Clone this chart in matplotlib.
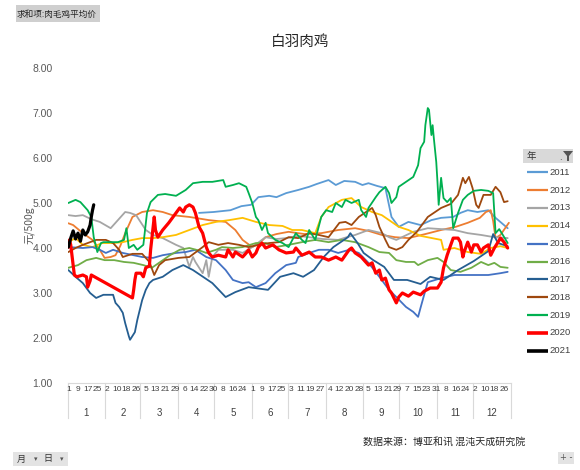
import numpy as np
import matplotlib
matplotlib.use('Agg')
import matplotlib.pyplot as plt
from matplotlib.patches import Rectangle, Polygon
from matplotlib.transforms import blended_transform_factory

plt.rcParams['font.family'] = ['Noto Sans CJK SC', 'DejaVu Sans']
LATIN = ['Liberation Sans', 'DejaVu Sans']

# 白羽肉鸡 price, (day of year, 元/500g); day 0 = Jan 1, leap-year calendar
p2011 = [(108, 4.78), (120, 4.80), (134, 4.84), (143, 4.93), (151, 4.96), (157, 5.13),
         (166, 5.16), (172, 5.13), (180, 5.22), (190, 5.29), (199, 5.36), (205, 5.42),
         (215, 5.51), (221, 5.40), (228, 5.49), (237, 5.47), (243, 5.40), (248, 5.44),
         (255, 5.38), (262, 5.33), (267, 4.69), (273, 4.47), (281, 4.58), (291, 4.51),
         (300, 4.62), (308, 4.67), (318, 4.69), (324, 4.78), (330, 4.84), (338, 4.80),
         (347, 4.84), (353, 4.67), (363, 4.44)]
p2012 = [(0, 4.55), (4, 4.51), (12, 4.33), (20, 4.18), (26, 3.96), (30, 3.78), (35, 3.80),
         (39, 3.84), (43, 4.05), (47, 4.33), (53, 4.69), (61, 4.80), (70, 4.84), (78, 4.80),
         (86, 4.73), (100, 4.69), (116, 4.62), (130, 4.58), (138, 4.40), (144, 4.18),
         (152, 4.02), (158, 4.11), (163, 4.24), (172, 4.31), (182, 4.36), (195, 4.31),
         (209, 4.33), (223, 4.40), (237, 4.44), (248, 4.38), (259, 4.29), (270, 4.24),
         (281, 4.22), (295, 4.31), (308, 4.40), (320, 4.47), (330, 4.56), (340, 4.67),
         (345, 4.80), (349, 4.84), (351, 4.60), (353, 4.22), (357, 4.29), (364, 4.56)]
p2013 = [(0, 4.73), (6, 4.71), (12, 4.73), (19, 4.64), (26, 4.58), (35, 4.44), (39, 4.56),
         (47, 4.80), (51, 4.78), (56, 4.73), (64, 4.40), (70, 4.29), (78, 4.22), (89, 4.07),
         (95, 4.00), (100, 3.58), (103, 3.80), (105, 3.69), (111, 3.44), (114, 3.73),
         (116, 3.36), (119, 3.80), (124, 3.96), (136, 3.96), (144, 3.89), (152, 4.02),
         (163, 4.24), (172, 4.20), (180, 4.22), (190, 4.27), (199, 4.24), (210, 4.20),
         (223, 4.18), (230, 4.24), (237, 4.29), (248, 4.40), (259, 4.33), (265, 4.24),
         (271, 4.18), (278, 4.27), (285, 4.36), (297, 4.44), (308, 4.42), (319, 4.40),
         (330, 4.33), (341, 4.29), (352, 4.24), (363, 4.22)]
p2014 = [(0, 4.13), (6, 4.22), (12, 4.07), (20, 4.02), (28, 4.11), (37, 4.11), (45, 4.13),
         (53, 4.18), (61, 4.22), (70, 4.22), (78, 4.24), (89, 4.29), (100, 4.40), (111, 4.51),
         (122, 4.58), (133, 4.62), (144, 4.67), (155, 4.58), (166, 4.51), (177, 4.49),
         (185, 4.40), (193, 4.40), (204, 4.33), (209, 4.69), (215, 4.91), (226, 5.07),
         (234, 5.11), (242, 4.91), (251, 4.80), (259, 4.73), (265, 4.62), (273, 4.47),
         (281, 4.40), (291, 4.27), (308, 4.18), (310, 3.96), (319, 4.00), (330, 3.91),
         (341, 3.87), (349, 4.00), (357, 4.04), (363, 4.00)]
p2015 = [(0, 4.02), (12, 4.00), (20, 4.02), (26, 3.96), (31, 3.89), (37, 3.96), (45, 3.89),
         (61, 3.80), (70, 3.78), (78, 3.84), (89, 3.89), (97, 3.91), (105, 3.96), (114, 3.80),
         (122, 3.73), (130, 3.51), (136, 3.29), (144, 3.22), (149, 3.24), (155, 3.13),
         (163, 3.22), (171, 3.44), (180, 3.62), (188, 3.67), (190, 3.80), (199, 3.89),
         (207, 3.96), (215, 3.96), (223, 3.89), (232, 3.96), (240, 3.89), (248, 3.67),
         (257, 3.36), (265, 3.07), (271, 2.91), (279, 2.69), (285, 2.58), (289, 2.47),
         (291, 2.67), (294, 2.96), (297, 3.24), (308, 3.33), (319, 3.40), (330, 3.40),
         (347, 3.40), (357, 3.44), (363, 3.47)]
p2016 = [(0, 3.56), (8, 3.62), (15, 3.73), (23, 3.78), (30, 3.73), (38, 3.73), (46, 3.69),
         (54, 3.67), (62, 3.62), (69, 3.56), (76, 3.69), (84, 3.84), (92, 3.96), (100, 4.00),
         (110, 3.93), (114, 3.89), (122, 3.96), (127, 4.02), (136, 4.00), (144, 4.02),
         (155, 4.11), (163, 4.11), (171, 4.02), (182, 4.07), (193, 4.13), (204, 4.18),
         (215, 4.13), (226, 4.18), (237, 4.13), (248, 4.02), (257, 3.91), (265, 3.89),
         (271, 3.73), (279, 3.69), (286, 3.69), (289, 3.62), (297, 3.73), (305, 3.78),
         (310, 3.69), (316, 3.51), (324, 3.47), (333, 3.56), (341, 3.69), (347, 3.62),
         (352, 3.67), (357, 3.58), (363, 3.56)]
p2017 = [(0, 3.51), (6, 3.36), (12, 3.22), (18, 3.00), (23, 2.89), (29, 2.96), (37, 2.96),
         (39, 2.78), (42, 2.69), (45, 2.56), (47, 2.33), (50, 2.04), (51, 1.96), (55, 2.13),
         (57, 2.40), (61, 2.84), (64, 3.07), (67, 3.22), (70, 3.29), (78, 3.36), (86, 3.51),
         (95, 3.62), (103, 3.51), (119, 3.22), (130, 2.91), (138, 3.02), (149, 3.13),
         (165, 3.07), (175, 3.36), (186, 3.44), (194, 3.36), (203, 3.51), (211, 3.80),
         (219, 4.02), (231, 4.24), (233, 4.33), (239, 4.11), (244, 3.89), (252, 3.73),
         (261, 3.58), (269, 3.29), (280, 3.29), (291, 3.20), (299, 3.36), (310, 3.29),
         (322, 3.51), (335, 3.71), (347, 3.93), (351, 4.31), (355, 4.11), (363, 4.04)]
p2018 = [(0, 3.91), (6, 4.00), (12, 4.07), (23, 4.18), (31, 4.18), (37, 4.11), (42, 3.96),
         (45, 3.80), (53, 3.87), (61, 3.87), (67, 3.69), (71, 3.40), (75, 3.62), (80, 3.73),
         (91, 3.78), (100, 3.80), (111, 4.02), (116, 4.13), (124, 4.07), (132, 4.11),
         (141, 4.07), (149, 4.02), (157, 4.07), (166, 4.11), (174, 4.13), (182, 4.24),
         (190, 4.22), (199, 4.33), (207, 4.29), (215, 4.24), (224, 4.56), (229, 4.58),
         (234, 4.51), (240, 4.69), (246, 4.80), (251, 4.89), (254, 4.73), (257, 4.47),
         (262, 4.18), (265, 4.02), (271, 3.96), (276, 4.02), (281, 4.18), (288, 4.36),
         (297, 4.69), (308, 4.89), (316, 4.98), (322, 5.18), (326, 5.56), (328, 5.44),
         (331, 5.58), (334, 5.33), (337, 4.96), (339, 4.89), (343, 5.18), (349, 5.18),
         (353, 5.36), (357, 5.24), (360, 5.02), (363, 5.04)]
p2019 = [(0, 5.00), (6, 5.07), (10, 5.02), (16, 4.84), (19, 4.69), (21, 4.24), (24, 3.91),
         (27, 4.11), (29, 4.13), (41, 4.13), (46, 4.18), (48, 4.44), (50, 4.00), (54, 4.07),
         (57, 3.96), (62, 4.07), (65, 4.78), (68, 5.02), (74, 5.18), (80, 5.20), (89, 5.16),
         (97, 5.29), (103, 5.44), (111, 5.47), (119, 5.47), (128, 5.51), (130, 5.36),
         (136, 5.40), (141, 5.44), (147, 5.36), (149, 5.22), (152, 5.00), (155, 4.69),
         (157, 4.62), (160, 4.40), (163, 4.56), (165, 4.33), (171, 4.18), (177, 4.11),
         (182, 4.02), (188, 4.33), (193, 4.18), (196, 4.11), (199, 4.40), (204, 4.18),
         (209, 4.69), (213, 4.84), (218, 4.80), (221, 5.00), (226, 4.91), (229, 5.07),
         (234, 5.00), (240, 5.07), (242, 4.84), (246, 4.69), (248, 4.89), (254, 5.13),
         (257, 5.24), (262, 5.36), (265, 5.22), (267, 5.00), (271, 5.13), (273, 5.36),
         (279, 5.47), (285, 5.58), (289, 5.84), (291, 6.22), (294, 6.36), (295, 6.73),
         (297, 7.11), (298, 7.07), (300, 6.51), (301, 6.73), (302, 6.44), (304, 5.91),
         (305, 5.47), (306, 4.96), (308, 5.56), (309, 5.33), (310, 5.11), (313, 5.02),
         (316, 5.11), (318, 4.44), (322, 4.78), (326, 5.07), (330, 5.18), (335, 5.27),
         (341, 5.29), (347, 5.27), (351, 5.22), (353, 4.33), (356, 4.42), (359, 4.29),
         (363, 4.11)]
p2020 = [(0, 4.02), (1, 4.18), (2, 4.07), (4, 3.62), (5, 3.40), (7, 3.36), (12, 3.40),
         (15, 3.36), (16, 3.13), (18, 3.27), (19, 3.40), (53, 2.89), (54, 3.07), (55, 3.29),
         (56, 3.44), (60, 3.44), (62, 3.36), (64, 3.56), (67, 3.60), (68, 3.96), (71, 4.69),
         (72, 4.40), (74, 4.24), (78, 4.40), (83, 4.56), (89, 4.78), (92, 4.89), (95, 4.80),
         (97, 4.91), (100, 4.96), (103, 4.91), (105, 4.78), (108, 4.47), (111, 4.33),
         (114, 4.02), (116, 3.89), (119, 3.80), (124, 3.84), (130, 3.80), (132, 3.96),
         (136, 3.80), (138, 3.91), (144, 3.80), (147, 3.89), (149, 3.96), (152, 3.80),
         (155, 3.89), (157, 4.02), (160, 4.11), (163, 4.00), (169, 4.07), (174, 3.96),
         (180, 3.89), (186, 3.91), (188, 4.00), (193, 3.84), (199, 3.91), (204, 3.80),
         (209, 3.80), (215, 3.73), (221, 3.80), (226, 3.73), (232, 3.96), (234, 4.00),
         (237, 3.89), (242, 3.80), (248, 3.62), (251, 3.67), (254, 3.44), (257, 3.51),
         (259, 3.29), (262, 3.33), (265, 3.07), (267, 3.00), (271, 2.78), (273, 2.91),
         (276, 3.00), (281, 2.93), (285, 3.02), (291, 2.96), (294, 3.04), (299, 3.11),
         (305, 3.11), (308, 3.24), (310, 3.56), (313, 3.84), (316, 4.07), (318, 4.22),
         (322, 4.22), (324, 4.13), (326, 3.80), (327, 3.91), (330, 4.13), (333, 3.91),
         (335, 4.07), (338, 4.07), (341, 3.91), (343, 4.00), (347, 4.07), (349, 3.84),
         (352, 4.00), (355, 4.13), (357, 4.22), (360, 4.13), (363, 4.00)]
p2021 = [(0, 4.02), (2, 4.22), (4, 4.38), (6, 4.20), (8, 4.33), (10, 4.15), (12, 4.40),
         (14, 4.29), (16, 4.36), (18, 4.51), (19, 4.69), (20, 4.84), (21, 4.96)]

years = ['2011', '2012', '2013', '2014', '2015', '2016', '2017', '2018', '2019', '2020', '2021']
series = [p2011, p2012, p2013, p2014, p2015, p2016, p2017, p2018, p2019, p2020, p2021]
colors = ['#5B9BD5', '#ED7D31', '#A5A5A5', '#FFC000', '#4472C4', '#70AD47',
          '#255E91', '#9E480E', '#00B050', '#FF0000', '#000000']
widths = [1.3] * 9 + [2.3, 2.3]

month_days = [31, 29, 31, 30, 31, 30, 31, 31, 30, 31, 30, 31]
month_start = np.concatenate([[0], np.cumsum(month_days)])

fig = plt.figure(figsize=(5.8, 4.7), dpi=100)
ax = fig.add_axes([67.7 / 580, 87 / 470, 443 / 580, 315 / 470])

for pts, c, lw in zip(series, colors, widths):
    d, v = zip(*pts)
    ax.plot(d, v, color=c, lw=lw, solid_joinstyle='round', solid_capstyle='round')

ax.set_xlim(-0.5, 365.5)
ax.set_ylim(1, 8)
ax.set_yticks(np.arange(1, 9))
ax.set_yticklabels([f'{t:.2f}' for t in np.arange(1, 9)], family=LATIN, fontsize=7.5, color='#595959')
ax.tick_params(axis='y', length=0, pad=11)
ax.set_xticks([])
for s in ['top', 'right', 'left']:
    ax.spines[s].set_visible(False)
ax.spines['bottom'].set_color('#D9D9D9')

# two-level category axis: day of month every 8 days, month below
trans = blended_transform_factory(ax.transData, ax.transAxes)
for i in range(0, 366, 8):
    m = np.searchsorted(month_start, i, side='right') - 1
    ax.text(i, -0.022, str(i - month_start[m] + 1), transform=trans, ha='center', va='center',
            family=LATIN, fontsize=6.0, color='#404040', clip_on=False)
for m in range(12):
    ax.text((month_start[m] + month_start[m + 1] - 1) / 2, -0.095, str(m + 1), transform=trans,
            ha='center', va='center', family=LATIN, fontsize=7, color='#404040', clip_on=False)
for b in month_start:
    ax.plot([b - 0.5, b - 0.5], [0, -0.11], transform=trans, color='#D9D9D9', lw=0.8, clip_on=False)

fig.text(300 / 580, 1 - 42 / 470, '白羽肉鸡', ha='center', va='center', fontsize=10.5, color='#262626')
fig.text(29 / 580, 1 - 225 / 470, '元/500g', rotation=90, ha='center', va='center', fontsize=7.5, color='#595959')
fig.text(525 / 580, 1 - 442 / 470, '数据来源：博亚和讯 混沌天成研究院', ha='right', va='center',
         fontsize=7.2, color='#262626')

# pivot-chart field buttons and legend, placed in pixel units
ov = fig.add_axes([0, 0, 1, 1], zorder=5)
ov.set_xlim(0, 580)
ov.set_ylim(470, 0)
ov.axis('off')

ov.add_patch(Rectangle((16, 5), 84, 17, facecolor='#CFCFCF', edgecolor='none'))
ov.text(17, 14, '求和项:肉毛鸡平均价', fontsize=6.2, va='center', ha='left', color='#222222')

ov.add_patch(Rectangle((13, 452), 55, 14, facecolor='#E3E3E3', edgecolor='none'))
ov.text(17, 459, '月', fontsize=6.5, va='center', color='#333333')
ov.text(34, 459, '▾', fontsize=5, va='center', color='#555555', family=['DejaVu Sans'])
ov.text(43, 459, '日', fontsize=6.5, va='center', color='#333333')
ov.text(60, 459, '▾', fontsize=5, va='center', color='#555555', family=['DejaVu Sans'])

ov.add_patch(Rectangle((558, 452), 16, 12, facecolor='#E3E3E3', edgecolor='none'))
ov.text(566, 458, '+ -', fontsize=6, va='center', ha='center', color='#555555', family=['DejaVu Sans'])

ov.add_patch(Rectangle((523, 149), 50, 14, facecolor='#D9D9D9', edgecolor='none'))
ov.text(527, 156, '年', fontsize=6.8, va='center', color='#333333')
ov.text(560, 158, '.', fontsize=6, va='center', ha='center', color='#333333', family=['DejaVu Sans'])
ov.add_patch(Polygon([(563, 151), (573, 151), (569, 156), (569, 161), (567, 161), (567, 156)],
                     closed=True, facecolor='#555555', edgecolor='none'))

for k, (name, c, lw) in enumerate(zip(years, colors, widths)):
    y = 172.3 + k * 17.85
    ov.plot([527, 548], [y, y], color=c, lw=lw + 0.3 if lw > 2 else 1.6, solid_capstyle='butt')
    ov.text(549, y, name, fontsize=6.8, va='center', ha='left', family=LATIN, color='#404040')

fig.savefig('out.png', dpi=100)
